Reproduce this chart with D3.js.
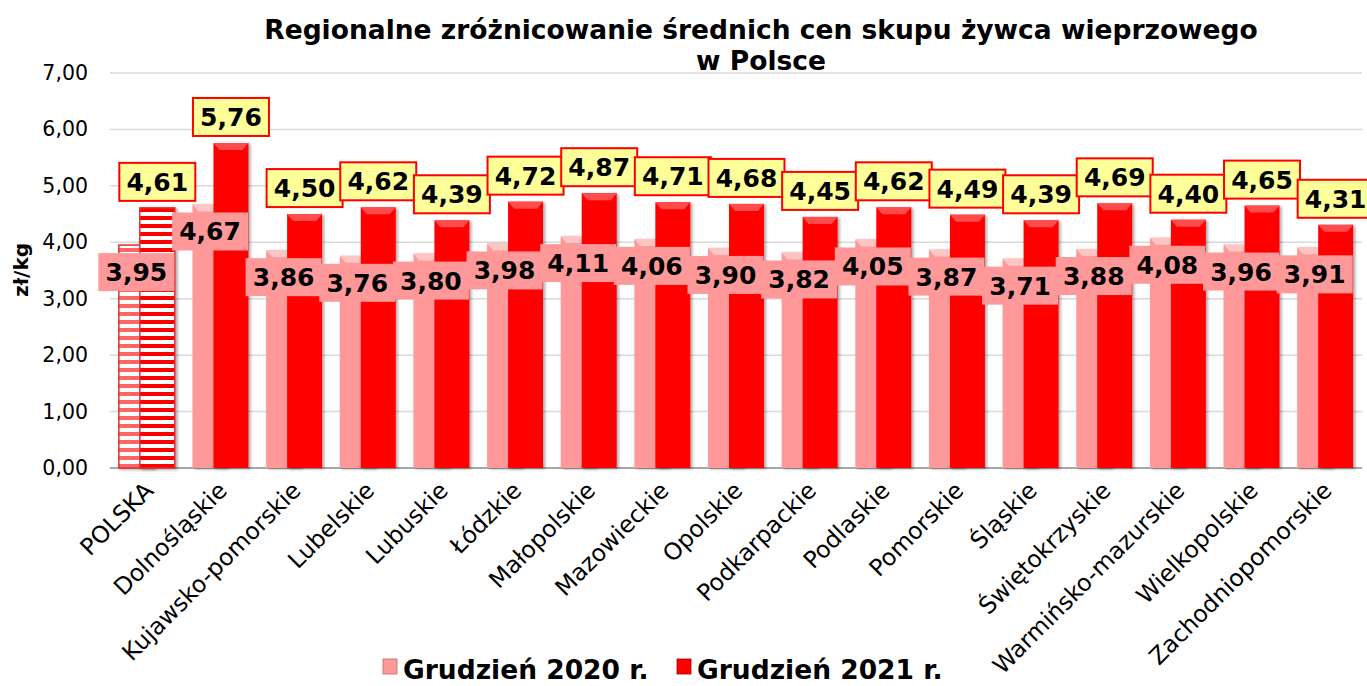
<!DOCTYPE html>
<html>
<head>
<meta charset="utf-8">
<script src="https://cdn.jsdelivr.net/npm/d3@7/dist/d3.min.js"></script>
<style>
body{margin:0;background:white;font-family:"DejaVu Sans",Verdana,sans-serif;}
</style>
</head>
<body>
<div id="chart"></div>
<script>
// data
var regions = ["POLSKA","Dolnośląskie","Kujawsko-pomorskie","Lubelskie","Lubuskie","Łódzkie","Małopolskie","Mazowieckie","Opolskie","Podkarpackie","Podlaskie","Pomorskie","Śląskie","Świętokrzyskie","Warmińsko-mazurskie","Wielkopolskie","Zachodniopomorskie"]
var dec2020 = [3.95,4.67,3.86,3.76,3.80,3.98,4.11,4.06,3.90,3.82,4.05,3.87,3.71,3.88,4.08,3.96,3.91]
var dec2021 = [4.61,5.76,4.50,4.62,4.39,4.72,4.87,4.71,4.68,4.45,4.62,4.49,4.39,4.69,4.40,4.65,4.31]
var seriesNames = ["Grudzień 2020 r.","Grudzień 2021 r."]
var yTicks = [0,1,2,3,4,5,6,7]

var W = 1367, H = 686
var color2020 = "#FF9999"
var color2021 = "#FF0000"
var gridColor = "#D9D9D9"
var fmt = function(v){return d3.format(".2f")(v).replace(".",",")}

var svg = d3.select("#chart").append("svg")
.attr("width",W)
.attr("height",H)

var defs = svg.append("defs")
// striped patterns for POLSKA
function stripes(id,base){
var p = defs.append("pattern")
.attr("id",id)
.attr("patternUnits","userSpaceOnUse")
.attr("width",8)
.attr("height",8)
p.append("rect").attr("width",8).attr("height",8).attr("fill",base)
p.append("rect").attr("y",4).attr("width",8).attr("height",4).attr("fill","white")
}
stripes("str2020","#FF6666")
stripes("str2021","#FF0000")

var sh = defs.append("filter").attr("id","shadow").attr("x","-20%").attr("y","-5%").attr("width","150%").attr("height","115%")
sh.append("feDropShadow").attr("dx",2).attr("dy",1).attr("stdDeviation",1.5).attr("flood-color","#000").attr("flood-opacity",0.35)

var x = d3.scaleBand().domain(regions).range([110,1362]).padding(0)
var y = d3.scaleLinear().domain([0,7]).range([468,73])
var barW = x.bandwidth()*0.475
var off2020 = x.bandwidth()/2 - barW*0.8
var off2021 = x.bandwidth()/2 - barW*0.2

// grid
svg.selectAll(".grid")
.data(yTicks)
.enter()
.append("line")
.attr("x1",110).attr("x2",1362)
.attr("y1",function(d){return y(d)})
.attr("y2",function(d){return y(d)})
.attr("stroke",function(d){return d==0?"#A6A6A6":gridColor})
.attr("stroke-width",function(d){return d==0?2:1.5})

svg.selectAll(".ytick")
.data(yTicks)
.enter()
.append("text")
.attr("x",88)
.attr("y",function(d){return y(d)+7})
.attr("text-anchor","end")
.attr("font-size",20.5)
.attr("fill","#000")
.text(function(d){return fmt(d)})

svg.append("text")
.attr("transform","translate(28,270) rotate(-90)")
.attr("text-anchor","middle")
.attr("font-size",20)
.attr("font-weight","bold")
.text("zł/kg")

// title
svg.append("text").attr("x",761).attr("y",39).attr("text-anchor","middle")
.attr("font-size",26.5).attr("font-weight","bold")
.text("Regionalne zróżnicowanie średnich cen skupu żywca wieprzowego")
svg.append("text").attr("x",761).attr("y",70).attr("text-anchor","middle")
.attr("font-size",26.5).attr("font-weight","bold")
.text("w Polsce")

function drawBars(vals,off,col,pat,light){
var g = svg.append("g")
g.selectAll("rect")
.data(vals)
.enter()
.append("rect")
.attr("x",function(d,i){return x(regions[i])+off})
.attr("y",function(d){return y(d)})
.attr("width",barW)
.attr("height",function(d){return y(0)-y(d)})
.attr("fill",function(d,i){return i==0?"url(#"+pat+")":col})
.attr("stroke",function(d,i){return i==0?"#E03030":"none"})
.attr("stroke-width",1.5)
.attr("filter","url(#shadow)")
// top bevel (not on the striped POLSKA bars)
g.selectAll(".bev")
.data(vals.slice(1))
.enter()
.append("path")
.attr("d",function(d,j){
var x0 = x(regions[j+1])+off, y0 = y(d)
return "M"+x0+","+y0+"L"+(x0+barW)+","+y0+"L"+(x0+barW-6)+","+(y0+7)+"L"+(x0+6)+","+(y0+7)+"Z"
})
.attr("fill",light)
.attr("opacity",0.8)
}
drawBars(dec2020,off2020,color2020,"str2020","#FFD0D0")
drawBars(dec2021,off2021,color2021,"str2021","#FF6060")

// 2020 labels: pink boxes just below the bar tops
var bw = 76, bh = 38
var lab20 = svg.selectAll(".lab20")
.data(dec2020)
.enter()
.append("g")
.attr("transform",function(d,i){
return "translate("+(x(regions[i])+off2020+barW/2)+","+(y(d)+8+bh/2)+")"
})
lab20.append("rect").attr("x",-bw/2).attr("y",-bh/2).attr("width",bw).attr("height",bh).attr("fill",color2020)
lab20.append("text").attr("text-anchor","middle").attr("y",9)
.attr("font-size",25).attr("font-weight","bold").text(function(d){return fmt(d)})

// 2021 labels: yellow boxes above the bars
var lab21 = svg.selectAll(".lab21")
.data(dec2021)
.enter()
.append("g")
.attr("transform",function(d,i){
return "translate("+(x(regions[i])+off2021+barW/2)+","+(y(d)-7-bh/2)+")"
})
lab21.append("rect").attr("x",-bw/2).attr("y",-bh/2).attr("width",bw).attr("height",bh)
.attr("fill","#FFFF99").attr("stroke","#FF0000").attr("stroke-width",2)
lab21.append("text").attr("text-anchor","middle").attr("y",9)
.attr("font-size",25).attr("font-weight","bold").text(function(d){return fmt(d)})

// category labels
svg.selectAll(".xlab")
.data(regions)
.enter()
.append("text")
.attr("transform",function(d){
return "translate("+(x(d)+x.bandwidth()/2+8)+",492) rotate(-45)"
})
.attr("text-anchor","end")
.attr("font-size",23.5)
.text(function(d){return d})

// legend
var leg = svg.append("g").attr("transform","translate(383,679)")
var legX = [0,294]
seriesNames.forEach(function(s,i){
leg.append("rect").attr("x",legX[i]).attr("y",-20).attr("width",14).attr("height",15)
.attr("fill",i==0?color2020:color2021).attr("stroke",i==0?"#C06060":"#A00000").attr("stroke-width",0.8)
leg.append("text").attr("x",legX[i]+20).attr("y",0).attr("font-size",26.5).attr("font-weight","bold").text(s)
})
</script>
</body>
</html>
